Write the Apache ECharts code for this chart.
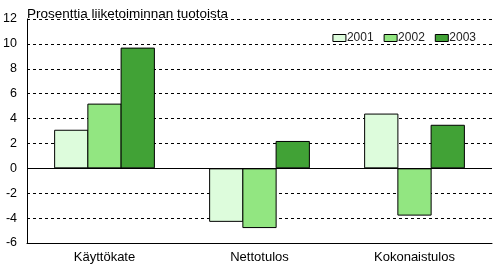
<!DOCTYPE html>
<html><head><meta charset="utf-8">
<script src="https://cdn.jsdelivr.net/npm/echarts@6/dist/echarts.min.js"></script>
<style>html,body{margin:0;padding:0;background:#fff}#c{width:493px;height:266px}</style>
</head><body><div id="c"></div>
<script>
const categories = ['Käyttökate', 'Nettotulos', 'Kokonaistulos'];
const years = ['2001', '2002', '2003'];
const v2001 = [3.1, -4.3, 4.4];
const v2002 = [5.2, -4.8, -3.8];
const v2003 = [9.7, 2.2, 3.5];
const colors = ['#ddfcdc', '#92e681', '#41a236'];
const yTicks = { min: -6, max: 12, interval: 2 };

const font = '"Liberation Sans", Arial, sans-serif';
const chart = echarts.init(document.getElementById('c'));
const data = [v2001, v2002, v2003];
chart.setOption({
  animation: false,
  title: { text: 'Prosenttia liiketoiminnan tuotoista', left: 22, top: 2,
    textStyle: { fontFamily: font, fontSize: 13.5, fontWeight: 'normal', color: '#000' } },
  legend: { right: 12, top: 27, itemWidth: 13, itemHeight: 7, itemGap: 10, icon: 'rect',
    data: years,
    itemStyle: { borderColor: '#000', borderWidth: 1 },
    textStyle: { fontFamily: font, fontSize: 12, color: '#222', padding: [0, 0, 0, -4] } },
  grid: { left: 27, right: 1, top: 19, bottom: 23, containLabel: false },
  xAxis: { type: 'category', data: categories,
    axisLine: { onZero: false, lineStyle: { color: '#000', width: 1 } },
    axisTick: { show: false },
    axisLabel: { fontFamily: font, fontSize: 13, color: '#000', margin: 8 } },
  yAxis: { type: 'value', min: yTicks.min, max: yTicks.max, interval: yTicks.interval,
    axisLine: { show: true, lineStyle: { color: '#000', width: 1 } },
    axisTick: { show: false },
    axisLabel: { fontFamily: font, fontSize: 12.5, color: '#000', margin: 10 },
    splitLine: { lineStyle: { color: '#000', type: [3, 3], width: 1 } } },
  series: years.map((y, i) => ({
    name: y, type: 'bar', data: data[i], barGap: '-3%', barCategoryGap: '35%',
    itemStyle: { color: colors[i], borderColor: '#000', borderWidth: 1, borderRadius: 0 },
    markLine: i === 0 ? { silent: true, symbol: 'none', label: { show: false },
      lineStyle: { color: '#000', type: 'solid', width: 1 },
      data: [{ yAxis: 0 }] } : undefined
  }))
});
</script></body></html>
